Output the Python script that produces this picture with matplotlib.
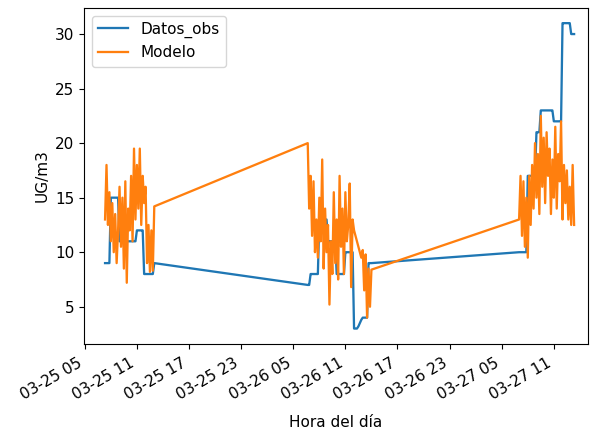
import matplotlib
matplotlib.use("Agg")
import matplotlib.pyplot as plt
import matplotlib.dates as mdates
import pandas as pd

plt.rcParams["font.size"] = 11

# three measuring campaigns, sampled every 10 minutes
seg_starts = ["2021-03-25 07:20", "2021-03-26 06:40", "2021-03-27 07:00"]
seg_ends = ["2021-03-25 13:00", "2021-03-26 14:00", "2021-03-27 13:20"]

obs_a = [9, 9, 9, 9,
         15, 15, 15, 15, 15, 15,
         11, 11, 11, 11, 11, 11,
         11, 11, 11, 11, 11, 11,
         12, 12, 12, 12, 12,
         8, 8, 8, 8, 8, 8, 8,
         9]
obs_b = [7, 7,
         8, 8, 8, 8, 8, 8,
         13, 13, 13, 13, 13, 13,
         11, 11, 11, 11, 11, 11,
         8, 8, 8, 8, 8, 8,
         10, 10, 10, 10, 10, 10,
         3, 3, 3, 3.2, 3.5, 3.8,
         4, 4, 4, 4,
         9, 9, 9]
obs_c = [10, 10, 10, 10, 10, 10,
         17, 17, 17, 17, 17, 17,
         21, 21, 21,
         23, 23, 23, 23, 23, 23, 23, 23, 23,
         22, 22, 22, 22, 22, 22,
         31, 31, 31, 31, 31, 31,
         30, 30, 30]

model_a = [13, 18, 12.5, 15.5, 11, 14.5, 10, 13.5, 9, 12,
           16, 10.5, 15, 8.5, 16.5, 7.2, 14, 12, 17, 11,
           19.5, 13, 18, 14, 19.5, 12.5, 17, 14.5, 16, 9,
           12.5, 8.2, 12, 8.3, 14.2]
model_b = [20, 14, 17, 11.5, 16.5, 10, 13, 9.5, 15, 11,
           18.5, 8.5, 14, 10, 12.5, 5.2, 11, 8, 15.5, 9,
           13, 7.5, 17, 10.5, 14, 8, 15.5, 11, 12.5, 16.3,
           6.8, 13, 12, 11.5, 11, 10.5, 10, 9.5, 10.2, 6.5,
           9.8, 4, 8.5, 5, 8.4]
model_c = [13, 17, 11.5, 16.5, 10.5, 15, 9.5, 17, 12.5, 18,
           14, 20, 15, 19, 13.5, 22.5, 16, 20.5, 14.5, 21,
           17, 19.5, 13.5, 18.5, 15, 21.5, 14, 19, 16.5, 22,
           13, 18, 14.5, 17.5, 13, 16, 12.5, 18, 12.5]

times = []
for s, e in zip(seg_starts, seg_ends):
    times.extend(pd.date_range(s, e, freq="10min"))

df = pd.DataFrame(
    {"Datos_obs": obs_a + obs_b + obs_c, "Modelo": model_a + model_b + model_c},
    index=pd.DatetimeIndex(times),
)

fig = plt.figure(figsize=(5.92, 4.38), dpi=100)
ax = fig.add_axes([0.142, 0.215, 0.851, 0.767])

ax.plot(df.index, df["Datos_obs"], label="Datos_obs", linewidth=1.65)
ax.plot(df.index, df["Modelo"], label="Modelo", linewidth=1.65)

ax.set_xlim(pd.Timestamp("2021-03-25 04:55"), pd.Timestamp("2021-03-27 14:55"))
ax.xaxis.set_major_locator(mdates.HourLocator(byhour=[5, 11, 17, 23]))
ax.xaxis.set_major_formatter(mdates.DateFormatter("%m-%d %H"))
ax.tick_params(axis="x", pad=5)
for lbl in ax.get_xticklabels():
    lbl.set_rotation(30)
    lbl.set_ha("right")

ax.set_xlabel("Hora del día", labelpad=9)
ax.set_ylabel("UG/m3")
ax.legend(loc="upper left")

fig.savefig("out.png", dpi=100)
